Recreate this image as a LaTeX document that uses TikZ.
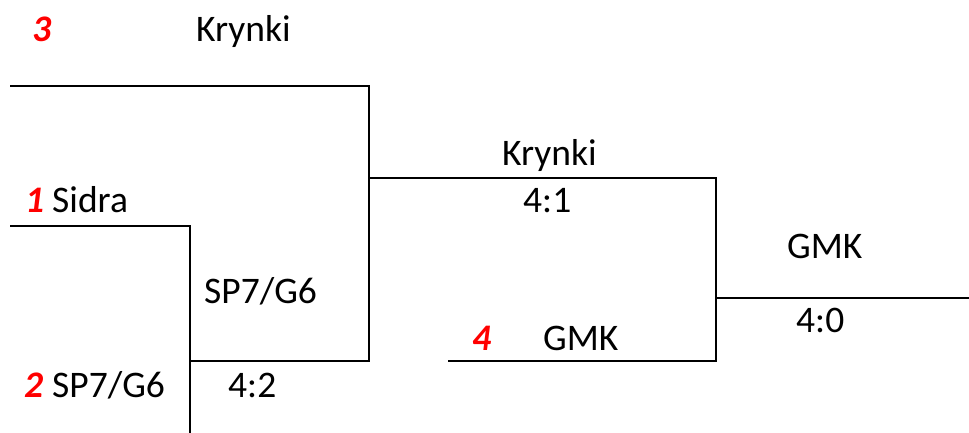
\documentclass[tikz,border=0pt]{standalone}
\usepackage{fontspec}
\setmainfont{Carlito}
\begin{document}
\begin{tikzpicture}[x=1pt,y=-1pt,
  line/.style={line width=2pt, line cap=rect},
  team/.style={inner sep=0pt, anchor=base west, font=\fontsize{37.5}{40}\selectfont},
  seed/.style={inner sep=0pt, anchor=base west, text=red, font=\fontsize{37.5}{40}\selectfont\bfseries\itshape}]
\useasboundingbox (0,0) rectangle (969,432);
% bracket corner coordinates
\coordinate (a1) at (11,86);
\coordinate (a2) at (369,86);
\coordinate (b1) at (11,226);
\coordinate (b2) at (190,226);
\coordinate (b3) at (190,432);
\coordinate (c1) at (190,361);
\coordinate (c2) at (369,361);
\coordinate (d1) at (369,178);
\coordinate (d2) at (716,178);
\coordinate (e1) at (449,361);
\coordinate (e2) at (716,361);
\coordinate (f1) at (716,298);
\coordinate (f2) at (969,298);
\draw[line] (a1) -- (a2) -- (c2) -- (c1);
\draw[line] (b1) -- (b2) -- (b3);
\draw[line] (d1) -- (d2) -- (e2) -- (e1);
\draw[line] (f1) -- (f2);
% labels
\node[seed] (s3) at (32,41) {3};
\node[team] (t1) at (196,41) {Krynki};
\node[seed] (s1) at (25,212) {1};
\node[team] (t2) at (52,212) {Sidra};
\node[team] (t3) at (204,303) {SP7/G6};
\node[seed] (s2) at (24,397) {2};
\node[team] (t4) at (52,397) {SP7/G6};
\node[team] (r1) at (228,397) {4:2};
\node[team] (t5) at (502,165) {Krynki};
\node[team] (r2) at (523,212) {4:1};
\node[seed] (s4) at (472,350) {4};
\node[team] (t6) at (543,350) {GMK};
\node[team] (t7) at (787,258) {GMK};
\node[team] (r3) at (796,332) {4:0};
\end{tikzpicture}
\end{document}
